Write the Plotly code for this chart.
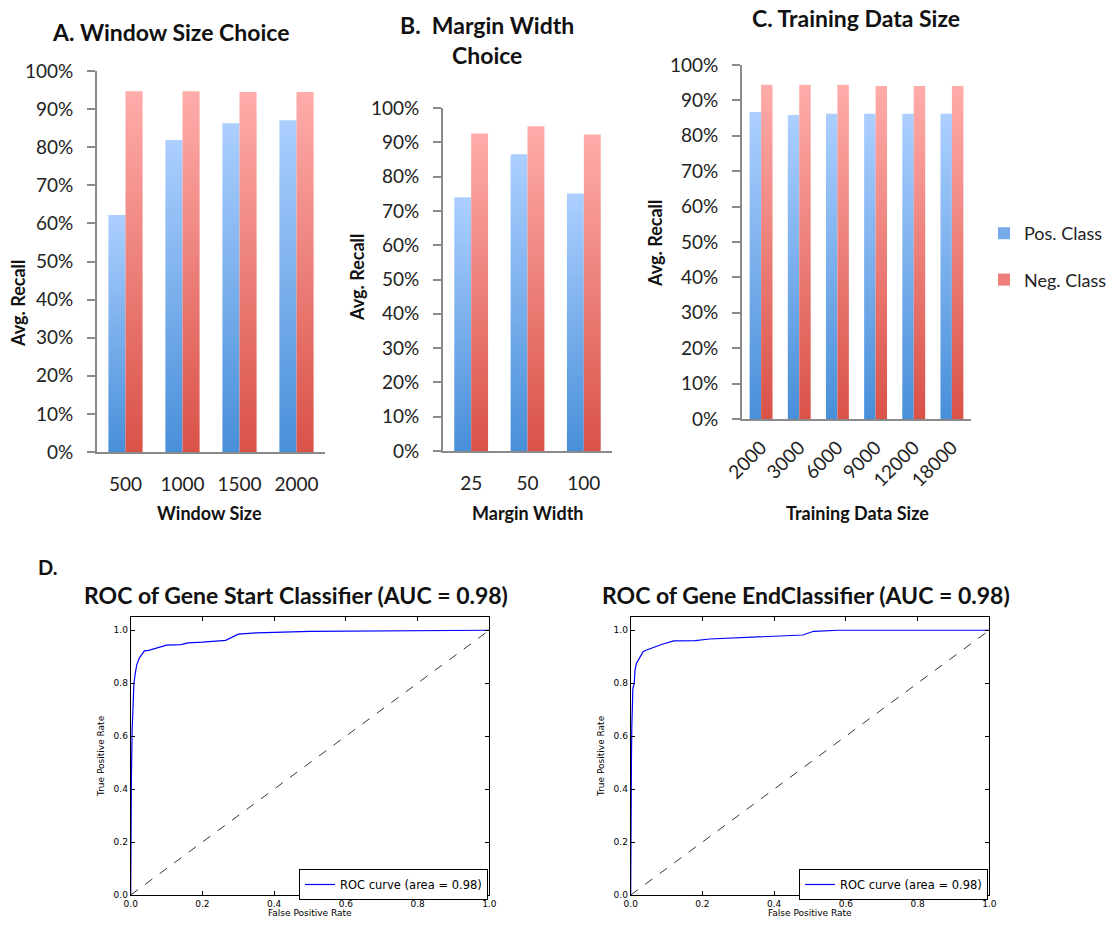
import plotly.graph_objects as go

# ---------------- data ----------------
window_sizes = ["500", "1000", "1500", "2000"]
a_pos = [0.622, 0.819, 0.863, 0.871]
a_neg = [0.947, 0.947, 0.945, 0.945]

margin_widths = ["25", "50", "100"]
b_pos = [0.740, 0.865, 0.751]
b_neg = [0.926, 0.947, 0.923]

train_sizes = ["2000", "3000", "6000", "9000", "12000", "18000"]
c_pos = [0.867, 0.859, 0.862, 0.862, 0.862, 0.862]
c_neg = [0.944, 0.944, 0.944, 0.941, 0.941, 0.941]

series_names = ["Pos. Class", "Neg. Class"]

roc_start_fpr = [0.0, 0.0, 0.002, 0.004, 0.006, 0.009, 0.013, 0.017, 0.024, 0.031, 0.038, 0.05, 0.08, 0.10,
                 0.14, 0.16, 0.20, 0.22, 0.265, 0.30, 0.35, 0.50, 0.90, 1.0]
roc_start_tpr = [0.0, 0.28, 0.45, 0.62, 0.72, 0.80, 0.84, 0.87, 0.895, 0.91, 0.922, 0.924, 0.937, 0.944,
                 0.946, 0.952, 0.955, 0.958, 0.962, 0.985, 0.99, 0.996, 1.0, 1.0]
roc_end_fpr = [0.0, 0.0, 0.002, 0.003, 0.004, 0.006, 0.01, 0.012, 0.016, 0.022, 0.03, 0.035, 0.05, 0.07,
               0.09, 0.12, 0.18, 0.22, 0.30, 0.40, 0.48, 0.51, 0.58, 1.0]
roc_end_tpr = [0.0, 0.33, 0.50, 0.63, 0.75, 0.78, 0.80, 0.85, 0.875, 0.89, 0.91, 0.92, 0.928, 0.938,
               0.948, 0.96, 0.961, 0.967, 0.972, 0.978, 0.982, 0.996, 1.0, 1.0]
roc_label = "ROC curve (area = 0.98)"

# ---------------- layout helpers ----------------
W, H = 1119, 926
def fx(x): return x / W
def fy(y): return 1 - y / H

FONT = "Lato"
BAR_W = 0.3
BLUE = ["rgb(72,143,217)", "rgb(172,207,255)"]
RED = ["rgb(217,82,72)", "rgb(255,172,170)"]
BLUE_MID = "rgb(118,170,232)"
RED_MID = "rgb(238,126,120)"
GRAY = "#8a8a8a"

fig = go.Figure()

panels = [
    dict(cats=window_sizes, pos=a_pos, neg=a_neg, xa="x", ya="y"),
    dict(cats=margin_widths, pos=b_pos, neg=b_neg, xa="x2", ya="y2"),
    dict(cats=train_sizes, pos=c_pos, neg=c_neg, xa="x3", ya="y3"),
]

for p in panels:
    for key, vals, cols, off, name in [("pos", p["pos"], BLUE, -BAR_W, series_names[0]),
                                       ("neg", p["neg"], RED, 0.0, series_names[1])]:
        for i, v in enumerate(vals):
            x0 = i + off
            x1 = x0 + BAR_W
            fig.add_trace(go.Scatter(
                x=[x0, x0, x1, x1, x0], y=[0, v, v, 0, 0],
                mode="lines", fill="toself", line=dict(width=0, color=cols[0]),
                fillgradient=dict(type="vertical", colorscale=[[0, cols[0]], [1, cols[1]]]),
                fillcolor=cols[0],
                xaxis=p["xa"], yaxis=p["ya"], name=name, legendgroup=key,
                showlegend=False, hoverinfo="skip"))

# legend keys (square swatches; zero-height bars draw nothing)
for key, name, col in [("pos", series_names[0], BLUE_MID), ("neg", series_names[1], RED_MID)]:
    fig.add_trace(go.Bar(x=[0], y=[0], name=name, marker=dict(color=col, line=dict(width=0)),
                         legendgroup=key, legend="legend", xaxis="x3", yaxis="y3",
                         showlegend=True, hoverinfo="skip", opacity=1))

# ROC curves
for fpr, tpr, xa, ya, lg in [(roc_start_fpr, roc_start_tpr, "x4", "y4", "legend2"),
                             (roc_end_fpr, roc_end_tpr, "x5", "y5", "legend3")]:
    fig.add_trace(go.Scatter(x=fpr, y=tpr, mode="lines", line=dict(color="#0000ff", width=1.2),
                             name=roc_label, xaxis=xa, yaxis=ya, legend=lg, showlegend=True))
    fig.add_trace(go.Scatter(x=[0, 1], y=[0, 1], mode="lines",
                             line=dict(color="black", width=0.8, dash="dash"),
                             xaxis=xa, yaxis=ya, showlegend=False))

def bar_x(dom, n, angle=0):
    return dict(domain=[fx(dom[0]), fx(dom[1])], range=[-0.5, n - 0.5],
                tickmode="array", tickvals=list(range(n)), showline=True, linecolor=GRAY,
                linewidth=2, ticks="", showgrid=False, zeroline=False,
                tickfont=dict(family=FONT, size=19, color="#222"), tickangle=angle,
                ticklabelstandoff=14, fixedrange=True, automargin=False)

def bar_y(dom, anchor):
    return dict(domain=[fy(dom[0]), fy(dom[1])], range=[0, 1], dtick=0.1, tick0=0,
                tickformat=".0%", showline=True, linecolor=GRAY, linewidth=2,
                ticks="outside", ticklen=8, tickcolor=GRAY, tickwidth=2, showgrid=False,
                zeroline=False, tickfont=dict(family=FONT, size=19, color="#222"),
                ticklabelstandoff=10, anchor=anchor, fixedrange=True, automargin=False)

def roc_x(dom, anchor):
    return dict(domain=[fx(dom[0]), fx(dom[1])], range=[0, 1], dtick=0.2, tickformat=".1f",
                showline=True, mirror="ticks", linecolor="black", linewidth=1, ticks="inside",
                ticklen=4, tickcolor="black", showgrid=False, zeroline=False,
                tickfont=dict(family="DejaVu Sans", size=9, color="black"), anchor=anchor,
                automargin=False)

def roc_y(dom, anchor):
    return dict(domain=[fy(dom[0]), fy(dom[1])], range=[0, 1.05], tickvals=[0, 0.2, 0.4, 0.6, 0.8, 1.0],
                tickformat=".1f", showline=True, mirror="ticks", linecolor="black", linewidth=1,
                ticks="inside", ticklen=4, tickcolor="black", showgrid=False, zeroline=False,
                tickfont=dict(family="DejaVu Sans", size=9, color="black"), anchor=anchor,
                automargin=False)

xa1 = bar_x((97, 325), len(window_sizes)); xa1["ticktext"] = window_sizes
xa2 = bar_x((443, 612), len(margin_widths)); xa2["ticktext"] = margin_widths
xa3 = bar_x((742, 971), len(train_sizes), angle=-45); xa3["ticktext"] = train_sizes
xa3["ticklabelstandoff"] = 8

fig.update_layout(
    width=W, height=H, autosize=False, margin=dict(l=0, r=0, t=0, b=0, autoexpand=False),
    paper_bgcolor="white", plot_bgcolor="white",
    xaxis=dict(xa1, anchor="y"), yaxis=bar_y((452, 71), "x"),
    xaxis2=dict(xa2, anchor="y2"), yaxis2=bar_y((451, 108), "x2"),
    xaxis3=dict(xa3, anchor="y3"), yaxis3=bar_y((419, 65), "x3"),
    xaxis4=roc_x((130.7, 489.3), "y4"), yaxis4=roc_y((895, 617), "x4"),
    xaxis5=roc_x((630.7, 989.3), "y5"), yaxis5=roc_y((895, 617), "x5"),
    legend=dict(bgcolor="rgba(0,0,0,0)", xanchor="left", yanchor="top",
                x=fx(984), y=fy(215), font=dict(family=FONT, size=18, color="#222"),
                tracegroupgap=20, itemwidth=30, traceorder="grouped"),
    legend2=dict(x=fx(299), y=fy(869), xanchor="left", yanchor="top", bgcolor="white",
                 bordercolor="black", borderwidth=1,
                 font=dict(family="DejaVu Sans", size=11.5, color="black")),
    legend3=dict(x=fx(799), y=fy(869), xanchor="left", yanchor="top", bgcolor="white",
                 bordercolor="black", borderwidth=1,
                 font=dict(family="DejaVu Sans", size=11.5, color="black")),
    showlegend=True,
)

def ann(text, x, y, size, bold=True, angle=0, family=FONT, color="#111", xanchor="center"):
    fig.add_annotation(text=f"<b>{text}</b>" if bold else text, x=fx(x), y=fy(y),
                       xref="paper", yref="paper", showarrow=False, textangle=angle,
                       xanchor=xanchor, yanchor="middle",
                       font=dict(family=family, size=size, color=color))

ann("A. Window Size Choice", 170, 32, 23)
ann("B.  Margin Width", 487, 25, 23)
ann("Choice", 487, 55, 23)
ann("C. Training Data Size", 856, 18, 23)
ann("D.", 36, 567, 20, xanchor="left")
ann("ROC of Gene Start Classifier (AUC = 0.98)", 296, 595, 23)
ann("ROC of Gene EndClassifier (AUC = 0.98)", 806, 595, 23)

ann("Window Size", 210, 513, 18)
ann("Margin Width", 527, 513, 18)
ann("Training Data Size", 857, 513, 18)
ann("Avg. Recall", 18, 303, 18, angle=-90)
ann("Avg. Recall", 357, 277, 18, angle=-90)
ann("Avg. Recall", 655, 243, 18, angle=-90)

ann("False Positive Rate", 310, 913, 9, bold=False, family="DejaVu Sans", color="black")
ann("False Positive Rate", 810, 913, 9, bold=False, family="DejaVu Sans", color="black")
ann("True Positive Rate", 101, 756, 9, bold=False, angle=-90, family="DejaVu Sans", color="black")
ann("True Positive Rate", 601, 756, 9, bold=False, angle=-90, family="DejaVu Sans", color="black")

fig.write_html("out.html")
